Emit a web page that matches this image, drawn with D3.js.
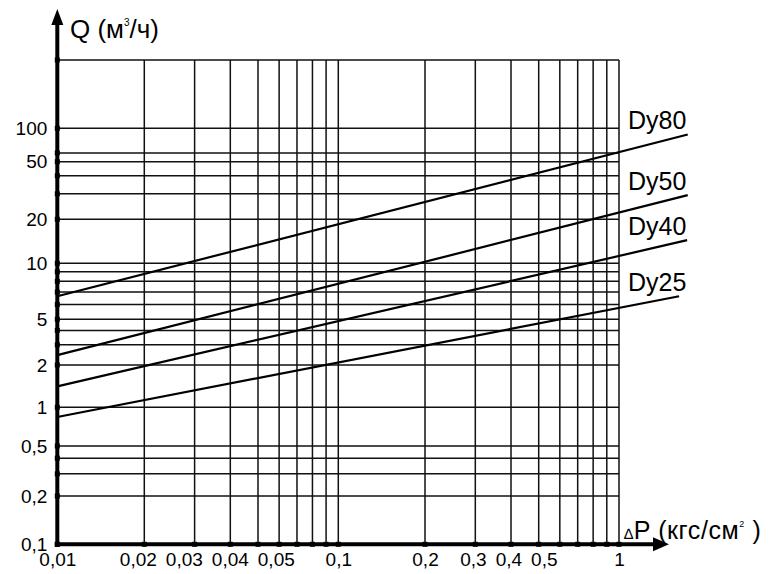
<!DOCTYPE html>
<html>
<head>
<meta charset="utf-8">
<script src="https://cdn.jsdelivr.net/npm/d3@7"></script>
<style>
  html, body { margin: 0; padding: 0; background: #fff; }
  svg { display: block; font-family: "Liberation Sans", Arial, sans-serif; }
</style>
</head>
<body>
<svg id="chart" width="772" height="574"></svg>
<script>
// ---------- data ----------
const dpGrid   = [0.01,0.02,0.03,0.04,0.05,0.06,0.07,0.08,0.09,0.1,0.2,0.3,0.4,0.5,0.6,0.7,0.8,0.9,1];
const dpLabels = [0.01,0.02,0.03,0.04,0.05,0.1,0.2,0.3,0.4,0.5,1];
const qGrid    = [0.1,0.2,0.3,0.4,0.5,1,2,3,4,5,6,7,8,9,10,20,30,40,50,60,100,300];
const qLabels  = [0.1,0.2,0.5,1,2,5,10,20,50,100];

const seriesNames = ["Dy80","Dy50","Dy40","Dy25"];
const dpStart = [0.01, 0.01, 0.01, 0.01];
const dpEnd   = [1.81, 1.81, 1.80, 1.68];
const qStart  = [6.65, 2.44, 1.41, 0.84];
const qEnd    = [88, 29.4, 14.4, 6.65];

// ---------- layout ----------
const svg = d3.select("#chart");
const L = 57.3, R = 619, T = 60, B = 544.3;
const fmt = v => String(v).replace(".", ",");

// log scales calibrated on the labelled values of the hand-drawn nomogram grid
const x = d3.scaleLog()
  .domain([0.01, 0.02, 0.05, 0.1, 0.2, 0.5, 1])
  .range([L, 144.3, 258, 338.3, 425, 538.7, R]);
const y = d3.scaleLog()
  .domain([0.1, 0.2, 0.5, 1, 2, 5, 10, 20, 50, 100, 300])
  .range([B, 496, 446, 407.3, 365, 319.3, 263.3, 219.3, 161.7, 128.3, T]);

// ---------- grid ----------
const grid = svg.append("g").attr("stroke", "#111").attr("stroke-width", 1.5).attr("fill", "none");
grid.selectAll("line.v").data(dpGrid).join("line")
  .attr("class", "v")
  .attr("x1", d => x(d)).attr("x2", d => x(d))
  .attr("y1", y(300)).attr("y2", y(0.1));
grid.selectAll("line.h").data(qGrid).join("line")
  .attr("class", "h")
  .attr("x1", x(0.01)).attr("x2", x(1))
  .attr("y1", d => y(d)).attr("y2", d => y(d));

// ---------- series lines ----------
const line = d3.line().x(d => x(d[0])).y(d => y(d[1]));
const series = seriesNames.map((n, i) => ({
  name: n,
  pts: [[dpStart[i], qStart[i]], [dpEnd[i], qEnd[i]]]
}));
svg.append("g").selectAll("path").data(series).join("path")
  .attr("d", d => line(d.pts))
  .attr("fill", "none").attr("stroke", "#000").attr("stroke-width", 2.2);

svg.append("g").selectAll("text").data(series).join("text")
  .attr("x", R + 9)
  .attr("y", d => y(d.pts[1][1]) - 5)
  .attr("font-size", 25)
  .attr("fill", "#000")
  .text(d => d.name);

// ---------- axes ----------
const axG = svg.append("g");
// y axis thick line + arrow
axG.append("line").attr("x1", L).attr("x2", L).attr("y1", B + 2).attr("y2", 24)
  .attr("stroke", "#000").attr("stroke-width", 4);
axG.append("path").attr("d", `M${L - 6},25 L${L},9 L${L + 6},25 Z`).attr("fill", "#000");
// x axis thick line + arrow
axG.append("line").attr("x1", L - 2).attr("x2", 655).attr("y1", B).attr("y2", B)
  .attr("stroke", "#000").attr("stroke-width", 4);
axG.append("path").attr("d", `M653,${B - 7} L669,${B} L653,${B + 7} Z`).attr("fill", "#000");

// square markers where grid meets axes
axG.selectAll("rect.qy").data(qGrid).join("rect")
  .attr("class", "qy")
  .attr("x", L - 2.5).attr("y", d => y(d) - 2.5).attr("width", 5).attr("height", 5).attr("fill", "#000");
axG.selectAll("rect.qx").data(dpGrid).join("rect")
  .attr("class", "qx")
  .attr("x", d => x(d) - 2.5).attr("y", B - 2.5).attr("width", 5).attr("height", 5).attr("fill", "#000");

// y tick labels via d3 axis
const yAxis = d3.axisLeft(y).tickValues(qLabels).tickFormat(fmt).tickSize(0).tickPadding(10);
const yg = svg.append("g").attr("transform", `translate(${L},0)`).call(yAxis);
yg.select(".domain").remove();
yg.selectAll("text").attr("font-size", 19).attr("fill", "#000")
  .attr("font-family", '"Liberation Sans", Arial, sans-serif');

// x tick labels via d3 axis, then spread apart where they would collide
const xAxis = d3.axisBottom(x).tickValues(dpLabels).tickFormat(fmt).tickSize(0).tickPadding(8);
const xg = svg.append("g").attr("transform", `translate(0,${B})`).call(xAxis);
xg.select(".domain").remove();
const xt = xg.selectAll("text").attr("font-size", 19).attr("fill", "#000")
  .attr("font-family", '"Liberation Sans", Arial, sans-serif');
const items = [];
xt.each(function(d) { items.push({ el: this, c: x(d), p: x(d), w: this.getComputedTextLength() }); });
for (let it = 0; it < 400; it++) {
  for (let i = 0; i < items.length - 1; i++) {
    const a = items[i], b = items[i + 1];
    const need = (a.w + b.w) / 2 + 9 - (b.p - a.p);
    if (need > 0) { a.p -= need / 2; b.p += need / 2; }
  }
}
items.forEach(o => d3.select(o.el).attr("x", o.p - o.c));

// ---------- axis titles ----------
const qt = svg.append("text").attr("x", 70).attr("y", 38).attr("font-size", 26).attr("fill", "#000");
qt.append("tspan").text("Q (м");
qt.append("tspan").attr("font-size", 10).attr("dy", -12).text("3");
qt.append("tspan").attr("dy", 12).text("/ч)");

const pt = svg.append("text").attr("x", 624).attr("y", 539).attr("font-size", 25)
  .attr("letter-spacing", 0.6).attr("fill", "#000");
pt.append("tspan").attr("font-size", 15).text("∆");
pt.append("tspan").text("P (кгс/см");
pt.append("tspan").attr("font-size", 9).attr("dy", -12).text("2");
pt.append("tspan").attr("dy", 12).text(" )");
</script>
</body>
</html>
